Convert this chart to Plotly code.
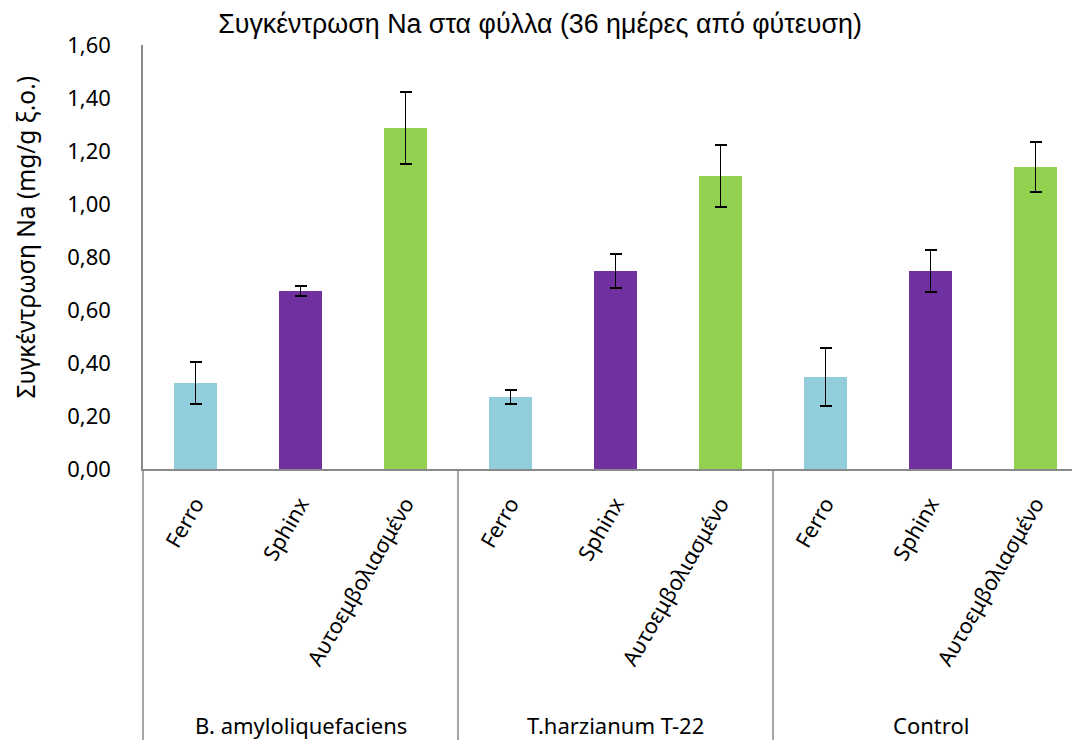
"""Na concentration in leaves, 36 days after planting: grouped bars with error bars."""

import plotly.graph_objects as go

GROUPS = ['B. amyloliquefaciens', 'T.harzianum T-22', 'Control']
VARIETIES = ['Ferro', 'Sphinx', 'Αυτοεμβολιασμένο']
VARIETY_COLORS = ['#92CDDC', '#7030A0', '#92D050']

# values per group, in VARIETIES order
NA_MEAN = [
    [0.325, 0.672, 1.287],
    [0.272, 0.747, 1.106],
    [0.347, 0.747, 1.140],
]
NA_ERR = [
    [0.080, 0.018, 0.135],
    [0.026, 0.065, 0.117],
    [0.110, 0.080, 0.095],
]

Y_TICKS = [0.0, 0.2, 0.4, 0.6, 0.8, 1.0, 1.2, 1.4, 1.6]

TICK_FONT = 'Noto Sans, Open Sans, sans-serif'
AXIS_GRAY = '#898989'

# the page body adds an 8px margin, so the figure is 8px smaller than the window
W, H = 1072, 732
M_L, M_R, M_T, M_B = 135, 0, 37, 271
SLOT_PX = 105

n_vars = len(VARIETIES)
n_slots = len(GROUPS) * n_vars
plot_w = W - M_L - M_R
plot_h = H - M_T - M_B
x_min = -0.5
x_max = x_min + plot_w / SLOT_PX


def _paper_x(xval):
    return (xval - x_min) / (x_max - x_min)


fig = go.Figure()
for vi, name in enumerate(VARIETIES):
    xs = [gi * n_vars + vi for gi in range(len(GROUPS))]
    fig.add_trace(go.Bar(
        x=xs,
        y=[NA_MEAN[gi][vi] for gi in range(len(GROUPS))],
        error_y=dict(
            type='data',
            array=[NA_ERR[gi][vi] for gi in range(len(GROUPS))],
            color='black',
            thickness=1.8,
            width=6,
        ),
        marker=dict(color=VARIETY_COLORS[vi], line=dict(width=0)),
        width=0.41,
        name=name,
        showlegend=False,
    ))

bottom_y = -M_B / plot_h
for k in range(len(GROUPS) + 1):
    xp = _paper_x(k * n_vars - 0.5)
    fig.add_shape(
        type='line', xref='paper', yref='paper',
        x0=xp, x1=xp, y0=0, y1=bottom_y,
        line=dict(color=AXIS_GRAY, width=1.5),
    )

group_label_y = -256 / plot_h
for gi, gname in enumerate(GROUPS):
    fig.add_annotation(
        x=gi * n_vars + (n_vars - 1) / 2, xref='x',
        y=group_label_y, yref='paper',
        text=gname, showarrow=False,
        font=dict(family=TICK_FONT, size=22, color='black'),
        xanchor='center', yanchor='middle',
    )

# y-axis title, placed as an annotation so it sits where the original has it
fig.add_annotation(
    x=(17 - M_L) / plot_w, xref='paper',
    y=1 - (229.5 - M_T) / plot_h, yref='paper',
    text='Συγκέντρωση Na (mg/g ξ.ο.)', textangle=-90, showarrow=False,
    font=dict(family=TICK_FONT, size=24.5, color='black'),
    xanchor='center', yanchor='middle',
)

fig.update_layout(
    width=W,
    height=H,
    margin=dict(l=M_L, r=M_R, t=M_T, b=M_B),
    paper_bgcolor='white',
    plot_bgcolor='white',
    separators=',.',
    bargap=0,
    title=dict(
        text='Συγκέντρωση Na στα φύλλα (36 ημέρες από φύτευση)',
        x=0.5 - 8 / W / 2, xanchor='center', y=1 - 16 / H, yanchor='middle',
        font=dict(family='Liberation Sans, Arial, sans-serif', size=26.8, color='black'),
    ),
)

fig.update_xaxes(
    range=[x_min, x_max],
    tickmode='array',
    tickvals=list(range(n_slots)),
    ticktext=VARIETIES * len(GROUPS),
    tickangle=-60,
    tickfont=dict(family=TICK_FONT, size=21.5, color='black'),
    ticks='',
    ticklabelstandoff=12,
    showline=True,
    linecolor=AXIS_GRAY,
    linewidth=1.5,
    showgrid=False,
    zeroline=False,
    fixedrange=True,
)

fig.update_yaxes(
    range=[0, 1.6],
    tickmode='array',
    tickvals=Y_TICKS,
    tickformat='.2f',
    tickfont=dict(family=TICK_FONT, size=22, color='black'),
    ticks='',
    ticklabelstandoff=26,
    showline=True,
    linecolor=AXIS_GRAY,
    linewidth=1.5,
    showgrid=False,
    zeroline=False,
)

fig.write_html('out.html')
